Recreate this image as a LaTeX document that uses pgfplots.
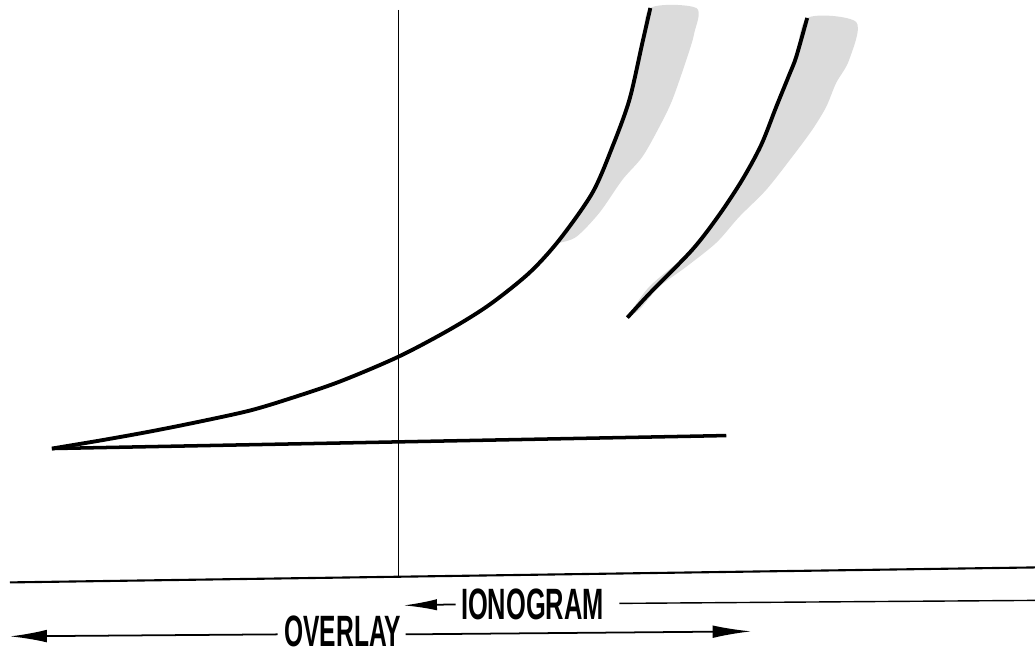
\documentclass[border=0pt]{standalone}
\usepackage{pgfplots}
\pgfplotsset{compat=1.18}
\usetikzlibrary{arrows.meta}
\usepackage{fontspec}
\setmainfont{Liberation Sans}
\usepackage{graphicx}
\begin{document}
\begin{tikzpicture}
\begin{axis}[scale only axis, width=10.36cm, height=6.52cm,
  xmin=0, xmax=1036, ymin=0, ymax=652, y dir=reverse,
  axis lines=none, clip=false]
\path (rel axis cs:0,0) rectangle (rel axis cs:1,1);
% shaded bands
\addplot[draw=none, fill=black!14, smooth] coordinates {
 (560,240) (593,193) (613,147) (630,100) (643,43) (651,8)
 (697,8) (695,33) (688,57) (673,100) (660,127) (643,157) (623,180) (600,213) (577,237) (560,243)} -- cycle;
\addplot[draw=none, fill=black!14, smooth] coordinates {
 (628,318) (650,287) (693,250) (720,215) (743,180) (762,145) (777,107) (790,75) (797,57) (808,18)
 (857,22) (850,60) (837,83) (827,107) (813,130) (793,157) (767,190) (740,217) (717,243) (687,267) (660,287) (640,310) (628,318)} -- cycle;
% vertical line
\addplot[black, line width=0.45pt] coordinates {(399,10) (399,578)};
% baseline
\addplot[black, line width=0.6pt] coordinates {(10,583) (1036,568)};
% thick horizontal line
\addplot[black, line width=1pt] coordinates {(52,449) (727,436)};
% curve 1
\addplot[black, line width=1.1pt, smooth] coordinates {
 (52,449) (100,441) (150,432) (200,422) (250,411) (290,399) (340,382) (399,357)
 (450,330) (490,305) (530,273) (560,240) (593,193) (613,147) (630,100) (643,43) (651,8)};
% curve 2
\addplot[black, line width=1.1pt, smooth] coordinates {
 (628,318) (650,294) (693,250) (720,215) (743,180) (762,145) (777,107) (790,75) (797,57) (808,18)};
% IONOGRAM arrow
\addplot[black, line width=0.5pt, -{Latex[length=9.5pt,width=3.2pt]}] coordinates {(456,605) (404,606)};
\addplot[black, line width=0.4pt] coordinates {(620,604) (1036,601)};
\node[font=\bfseries, anchor=center, inner sep=0pt] at (axis cs:533,605) {\scalebox{0.58}[1]{\fontsize{12.5}{12.5}\selectfont IONOGRAM}};
% OVERLAY arrow
\addplot[black, line width=0.5pt, -{Latex[length=10.5pt,width=3.6pt]}] coordinates {(278,635) (10,637)};
\addplot[black, line width=0.5pt, -{Latex[length=11pt,width=3.6pt]}] coordinates {(406,635) (752,632)};
\node[font=\bfseries, anchor=center, inner sep=0pt] at (axis cs:343,632) {\scalebox{0.56}[1]{\fontsize{12.5}{12.5}\selectfont OVERLAY}};
\end{axis}
\end{tikzpicture}
\end{document}
